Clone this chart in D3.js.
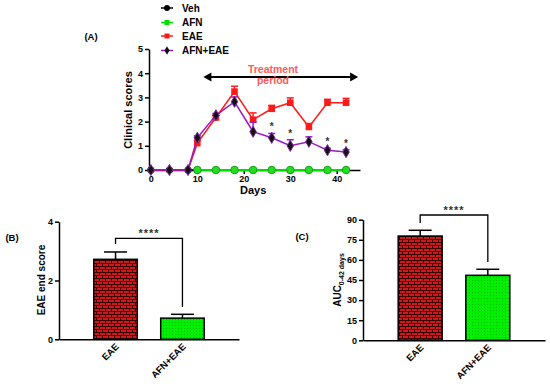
<!DOCTYPE html>
<html><head><meta charset="utf-8">
<script src="https://cdn.jsdelivr.net/npm/d3@7"></script>
<style>
body{margin:0;background:#fff;}
svg text{font-family:"Liberation Sans",Arial,sans-serif;font-weight:bold;}
</style></head>
<body>
<svg id="c" width="550" height="391"></svg>
<script>
// ---- Data ----
const days = [0, 4, 8, 10, 14, 18, 22, 26, 30, 34, 38, 42];
const vehScores = [0,0,0,0,0,0,0,0,0,0,0,0];
const afnDays = [10, 14, 18, 22, 26, 30, 34, 38, 42];
const afnScores = [0,0,0,0,0,0,0,0,0];
const eaeScores = [0,0,0,1.11,2.17,3.24,2.08,2.53,2.78,1.78,2.78,2.78];
const eaeErr    = [0,0,0,0.12,0.08,0.22,0.28,0.14,0.2,0.14,0.14,0.18];
const afnEaeScores = [0,0,0,1.33,2.26,2.82,1.58,1.33,1.0,1.17,0.82,0.74];
const afnEaeErr    = [0,0,0,0.08,0.08,0.2,0.4,0.18,0.25,0.2,0.08,0.1];
const starDays = [26, 30, 38, 42];
const xTicksA = [0, 10, 20, 30, 40];
const yTicksA = [0, 1, 2, 3, 4, 5];
const legendLabels = ["Veh", "AFN", "EAE", "AFN+EAE"];

const barCats = ["EAE", "AFN+EAE"];
const endScore = [2.72, 0.72];
const endScoreErr = [0.25, 0.13];
const yTicksB = [0, 2, 4];
const auc = [77.8, 48.5];
const aucErr = [4.3, 4.5];
const yTicksC = [0, 15, 30, 45, 60, 75, 90];

const svg = d3.select("#c");
const defs = svg.append("defs");
// brick pattern
const pb = defs.append("pattern").attr("id","brick").attr("patternUnits","userSpaceOnUse")
  .attr("width",6).attr("height",6);
pb.append("rect").attr("width",6).attr("height",6).attr("fill","#d01a1a");
pb.append("rect").attr("x",0).attr("y",2).attr("width",6).attr("height",1).attr("fill","#3a0000");
pb.append("rect").attr("x",0).attr("y",5).attr("width",6).attr("height",1).attr("fill","#3a0000");
pb.append("rect").attr("x",0).attr("y",0).attr("width",1).attr("height",3).attr("fill","#3a0000");
pb.append("rect").attr("x",3).attr("y",3).attr("width",1).attr("height",3).attr("fill","#3a0000");
// dotted green
const pg = defs.append("pattern").attr("id","dots").attr("patternUnits","userSpaceOnUse")
  .attr("width",3).attr("height",3);
pg.append("rect").attr("width",3).attr("height",3).attr("fill","#00f000");
pg.append("rect").attr("x",1).attr("y",1).attr("width",1).attr("height",1).attr("fill","#00b400");

const fmt = d3.format("d");
function styleAxis(g){
  g.selectAll("path").attr("stroke","#000").attr("stroke-width",1.5);
  g.selectAll("line").attr("stroke","#000").attr("stroke-width",1.5);
  g.selectAll("text").attr("font-size",9).attr("fill","#000")
    .style("font-family","'Liberation Sans',Arial,sans-serif").style("font-weight","bold");
}

// ---- Panel A ----
const xA = d3.scaleLinear().domain([-0.4,45]).range([149,360]);
const yA = d3.scaleLinear().domain([0,5]).range([170,49]);
const gxA = svg.append("g").attr("transform","translate(0,170)")
  .call(d3.axisBottom(xA).tickValues(xTicksA).tickFormat(fmt).tickSize(4).tickSizeOuter(0).tickPadding(2));
styleAxis(gxA);
const gyA = svg.append("g").attr("transform","translate(149,0)")
  .call(d3.axisLeft(yA).tickValues(yTicksA).tickFormat(fmt).tickSize(4).tickSizeOuter(0).tickPadding(2));
styleAxis(gyA);
svg.append("text").attr("x",xA(22)).attr("y",194).attr("text-anchor","middle").attr("font-size",11).text("Days");
svg.append("text").attr("transform","translate(132,110) rotate(-90)").attr("text-anchor","middle")
  .attr("font-size",11).text("Clinical scores");
svg.append("text").attr("x",91).attr("y",40).attr("text-anchor","middle").attr("font-size",9.5).text("(A)");

// Treatment arrow
svg.append("line").attr("x1",xA(11.3)+6).attr("x2",xA(44.6)-6).attr("y1",77).attr("y2",77)
  .attr("stroke","#000").attr("stroke-width",1.8);
svg.append("path").attr("d",`M${xA(11.3)},77 l8,-4.5 l0,9 z`).attr("fill","#000");
svg.append("path").attr("d",`M${xA(44.6)},77 l-8,-4.5 l0,9 z`).attr("fill","#000");
svg.append("text").attr("x",273).attr("y",73).attr("text-anchor","middle").attr("font-size",10.5)
  .attr("fill","#ff5a5a").text("Treatment");
svg.append("text").attr("x",273).attr("y",84).attr("text-anchor","middle").attr("font-size",10.5)
  .attr("fill","#ff5a5a").text("period");

const line = d3.line().x(d=>xA(d[0])).y(d=>yA(d[1]));
// Veh
svg.append("path").datum(days.map((d,i)=>[d,vehScores[i]])).attr("d",line)
  .attr("fill","none").attr("stroke","#000").attr("stroke-width",1.5);
svg.selectAll(".veh").data(days.map((d,i)=>[d,vehScores[i]])).join("circle")
  .attr("cx",d=>xA(d[0])).attr("cy",d=>yA(d[1])).attr("r",3.6).attr("fill","#000");
// AFN
svg.append("path").datum(afnDays.map((d,i)=>[d,afnScores[i]])).attr("d",line)
  .attr("fill","none").attr("stroke","#00e000").attr("stroke-width",1.8);
svg.selectAll(".afn").data(afnDays.map((d,i)=>[d,afnScores[i]])).join("circle")
  .attr("cx",d=>xA(d[0])).attr("cy",d=>yA(d[1])).attr("r",3.8).attr("fill","#22dd22")
  .attr("stroke","#119911").attr("stroke-width",0.8);
// EAE
const eaePts = days.map((d,i)=>({d, v:eaeScores[i], e:eaeErr[i]}));
svg.append("path").datum(eaePts.map(p=>[p.d,p.v])).attr("d",line)
  .attr("fill","none").attr("stroke","#ff1a1a").attr("stroke-width",1.5);
eaePts.filter(p=>p.e>0).forEach(p=>{
  svg.append("line").attr("x1",xA(p.d)).attr("x2",xA(p.d)).attr("y1",yA(p.v)).attr("y2",yA(p.v+p.e))
    .attr("stroke","#ff1a1a").attr("stroke-width",1.5);
  svg.append("line").attr("x1",xA(p.d)-3.5).attr("x2",xA(p.d)+3.5).attr("y1",yA(p.v+p.e)).attr("y2",yA(p.v+p.e))
    .attr("stroke","#ff1a1a").attr("stroke-width",1.5);
});
svg.selectAll(".eae").data(eaePts.filter(p=>p.v>0)).join("rect")
  .attr("x",p=>xA(p.d)-3.3).attr("y",p=>yA(p.v)-3.3).attr("width",6.6).attr("height",6.6).attr("fill","#ff1a1a");
// AFN+EAE
const aePts = days.map((d,i)=>({d, v:afnEaeScores[i], e:afnEaeErr[i]}));
svg.append("path").datum(aePts.map(p=>[p.d,p.v])).attr("d",line)
  .attr("fill","none").attr("stroke","#9a1ac8").attr("stroke-width",1.5);
aePts.filter(p=>p.e>0).forEach(p=>{
  svg.append("line").attr("x1",xA(p.d)).attr("x2",xA(p.d)).attr("y1",yA(p.v)).attr("y2",yA(p.v+p.e))
    .attr("stroke","#9a1ac8").attr("stroke-width",1.5);
  svg.append("line").attr("x1",xA(p.d)-3.5).attr("x2",xA(p.d)+3.5).attr("y1",yA(p.v+p.e)).attr("y2",yA(p.v+p.e))
    .attr("stroke","#9a1ac8").attr("stroke-width",1.5);
});
const diamond = d3.symbol().type(d3.symbolDiamond).size(36);
svg.selectAll(".ae").data(aePts).join("path").attr("d",diamond)
  .attr("transform",p=>`translate(${xA(p.d)},${yA(p.v)})`)
  .attr("fill","#111").attr("stroke","#7a2a9a").attr("stroke-width",1);
// stars
svg.selectAll(".star").data(starDays).join("text")
  .attr("x",d=>xA(d)).attr("y",d=>{const i=days.indexOf(d);return yA(afnEaeScores[i]+afnEaeErr[i])-3;})
  .attr("text-anchor","middle").attr("font-size",10).attr("fill","#333").text("*");

// legend
const legColors = ["#000","#00e000","#ff1a1a","#9a1ac8"];
legendLabels.forEach((lab,i)=>{
  const y = [8,22.5,36,50.5][i];
  svg.append("line").attr("x1",161).attr("x2",173).attr("y1",y).attr("y2",y)
    .attr("stroke",legColors[i]).attr("stroke-width",1.5);
  if(i===0) svg.append("circle").attr("cx",167).attr("cy",y).attr("r",3).attr("fill","#000");
  else if(i===3) svg.append("path").attr("d",d3.symbol().type(d3.symbolDiamond).size(22)())
    .attr("transform",`translate(167,${y})`).attr("fill","#111");
  else svg.append("rect").attr("x",164.5).attr("y",y-2.5).attr("width",5).attr("height",5).attr("fill",legColors[i]);
  svg.append("text").attr("x",182).attr("y",y+3.5).attr("font-size",10).text(lab);
});

// ---- Bar panels ----
function barPanel(o){
  const x = d3.scaleBand().domain(barCats).range([o.x0,o.x1]).paddingInner(0.35).paddingOuter(0.52);
  const y = d3.scaleLinear().domain(o.dom).range([o.y0,o.y1]);
  const gx = svg.append("g").attr("transform",`translate(0,${o.y0})`)
    .call(d3.axisBottom(x).tickSize(0).tickSizeOuter(0).tickFormat(""));
  styleAxis(gx);
  const gy = svg.append("g").attr("transform",`translate(${o.x0},0)`)
    .call(d3.axisLeft(y).tickValues(o.ticks).tickFormat(fmt).tickSize(4).tickSizeOuter(0).tickPadding(2));
  styleAxis(gy);
  // errors
  barCats.forEach((c,i)=>{
    const cx = x(c)+x.bandwidth()/2;
    svg.append("line").attr("x1",cx).attr("x2",cx).attr("y1",y(o.vals[i])).attr("y2",y(o.vals[i]+o.errs[i]))
      .attr("stroke","#000").attr("stroke-width",1.5);
    svg.append("line").attr("x1",cx-11.5).attr("x2",cx+11.5).attr("y1",y(o.vals[i]+o.errs[i])).attr("y2",y(o.vals[i]+o.errs[i]))
      .attr("stroke","#000").attr("stroke-width",1.5);
  });
  svg.selectAll(null).data(barCats).join("rect")
    .attr("x",c=>x(c)).attr("width",x.bandwidth())
    .attr("y",(c,i)=>y(o.vals[i])).attr("height",(c,i)=>o.y0-y(o.vals[i]))
    .attr("fill",(c,i)=>i===0?"url(#brick)":"url(#dots)").attr("stroke","#000").attr("stroke-width",1.5);
  // category labels
  barCats.forEach(c=>{
    const cx = x(c)+x.bandwidth()/2;
    svg.append("text").attr("transform",`translate(${cx+4},${o.y0+8}) rotate(-45)`)
      .attr("text-anchor","end").attr("font-size",9.5).text(c);
  });
  // bracket
  const c1 = x(barCats[0])+x.bandwidth()/2, c2 = x(barCats[1])+x.bandwidth()/2;
  svg.append("path").attr("d",`M${c1},${o.bL}V${o.bTop}H${c2}V${o.bR}`)
    .attr("fill","none").attr("stroke","#000").attr("stroke-width",1.3);
  svg.append("text").attr("x",(c1+c2)/2).attr("y",o.bTop-1).attr("text-anchor","middle")
    .attr("font-size",11).attr("fill","#333").attr("letter-spacing",1).text("****");
}
barPanel({x0:59,x1:239,y0:339.3,y1:221.7,dom:[0,4],ticks:yTicksB,vals:endScore,errs:endScoreErr,
  bL:244,bTop:238.3,bR:307});
barPanel({x0:363,x1:545,y0:340.3,y1:219.7,dom:[0,90],ticks:yTicksC,vals:auc,errs:aucErr,
  bL:223,bTop:215,bR:262});

svg.append("text").attr("x",12).attr("y",241).attr("text-anchor","middle").attr("font-size",9.5).text("(B)");
svg.append("text").attr("x",302).attr("y",240).attr("text-anchor","middle").attr("font-size",9.5).text("(C)");
svg.append("text").attr("transform","translate(45,280) rotate(-90)").attr("text-anchor","middle")
  .attr("font-size",10).text("EAE end score");
const auct = svg.append("text").attr("transform","translate(341,280) rotate(-90)").attr("text-anchor","middle")
  .attr("font-size",10);
auct.append("tspan").text("AUC");
auct.append("tspan").attr("font-size",7).attr("dy",3).text("0-42 days");
</script>
</body></html>
